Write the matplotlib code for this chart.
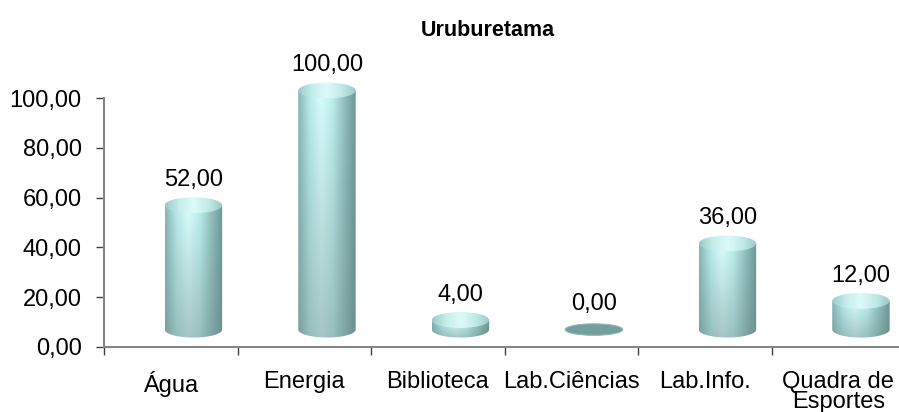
import numpy as np
import matplotlib
matplotlib.use('Agg')
import matplotlib.pyplot as plt
from matplotlib.patches import Polygon, Ellipse
from matplotlib.colors import LinearSegmentedColormap

categorias = ['Água', 'Energia', 'Biblioteca', 'Lab.Ciências', 'Lab.Info.', 'Quadra de\nEsportes']
valores = [52.00, 100.00, 4.00, 0.00, 36.00, 12.00]
rotulos = ['52,00', '100,00', '4,00', '0,00', '36,00', '12,00']
yticks = [0, 20, 40, 60, 80, 100]
ytick_labels = ['0,00', '20,00', '40,00', '60,00', '80,00', '100,00']

plt.rcParams['font.family'] = ['Liberation Sans', 'DejaVu Sans']

fig = plt.figure(figsize=(8.99, 4.12), dpi=100)
ax = fig.add_axes([104/899, 65/412, 801/899, 249/412])

# cores do cilindro
corpo = LinearSegmentedColormap.from_list('corpo', ['#86b6b4', '#b8ecea', '#d8fdfc', '#bcefed', '#92c2c0', '#6a9896'])
tampa = LinearSegmentedColormap.from_list('tampa', ['#9ccac8', '#c6eeec', '#dcfafa', '#c2eae8', '#9cc8c6'])
fundo = np.array([0.42, 0.52, 0.52])   # tom acinzentado da base

dx = 0.17      # deslocamento da profundidade
base = 7.0
w = 0.43
h = 6.4

xs = np.linspace(0, 1, 200)
for i, v in enumerate(valores):
    xc = i + dx
    x0, x1 = xc - w/2, xc + w/2
    topo = base + v*0.96
    if v > 0:
        t = np.linspace(np.pi, 2*np.pi, 60)
        pts = [(x0, topo)] + [(xc + w/2*np.cos(a), base + h/2*np.sin(a)) for a in t] + [(x1, topo)]
        clip = Polygon(pts, closed=True, facecolor='none', edgecolor='none')
        ax.add_patch(clip)
        # mistura vertical: mais escuro/acinzentado embaixo
        k = np.linspace(0.45, 0.0, 100)[:, None, None]
        img = corpo(xs)[None, :, :3] * (1 - k) + fundo[None, None, :] * k
        img = np.clip(img, 0, 1)
        im = ax.imshow(img, extent=[x0, x1, base - h/2, topo], origin='lower',
                       aspect='auto', interpolation='bilinear', zorder=2)
        im.set_clip_box(fig.bbox)
        im.set_clip_path(clip)
        el = Ellipse((xc, topo), w, h, facecolor='none', edgecolor='none', clip_on=False)
        ax.add_patch(el)
        im2 = ax.imshow(tampa(xs)[None, :, :3], extent=[x0, x1, topo - h/2, topo + h/2],
                        aspect='auto', interpolation='bilinear', zorder=3)
        im2.set_clip_box(fig.bbox)
        im2.set_clip_path(el)
        ax.text(xc, topo + h/2 + 2.5, rotulos[i], ha='center', va='bottom', fontsize=17, clip_on=False)
    else:
        el = Ellipse((xc, base), w, h*0.72, facecolor='#739f9d', edgecolor='#8fb5b3', lw=0.8, zorder=2)
        ax.add_patch(el)
        ax.text(xc, base + h/2 + 2.5, rotulos[i], ha='center', va='bottom', fontsize=17)

ax.set_xlim(-0.5, 5.5)
ax.set_ylim(0, 100)

for s in ['top', 'right']:
    ax.spines[s].set_visible(False)
for s in ['left', 'bottom']:
    ax.spines[s].set_color('#868686')
    ax.spines[s].set_linewidth(1.5)

ax.set_yticks(yticks)
ax.set_yticklabels(ytick_labels, fontsize=17)
ax.tick_params(axis='y', length=6, width=1, color='#404040', pad=10)

ax.set_xticks(range(len(categorias)))
ax.set_xticklabels(categorias, fontsize=17, linespacing=0.9)
ax.set_xticks(np.arange(-0.5, 6, 1), minor=True)
ax.tick_params(axis='x', which='major', length=0, pad=17)
ax.tick_params(axis='x', which='minor', length=6, width=1, color='#404040')

fig.text(0.543, 0.925, 'Uruburetama', ha='center', va='center', fontsize=15.5, fontweight='bold')

fig.savefig('out.png', dpi=100)
